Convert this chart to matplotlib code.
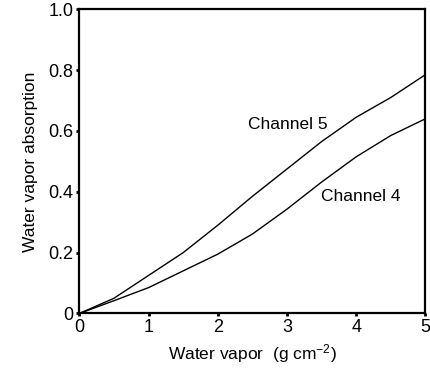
import numpy as np
import matplotlib
matplotlib.use("Agg")
import matplotlib.pyplot as plt

plt.rcParams["font.family"] = ["Liberation Sans", "DejaVu Sans"]
plt.rcParams["mathtext.default"] = "regular"

# precipitable water (g cm^-2) and fractional absorption per channel
water = [0, 0.5, 1, 1.5, 2, 2.5, 3, 3.5, 4, 4.5, 5]
ch5 = [0, 0.05, 0.125, 0.20, 0.29, 0.385, 0.475, 0.565, 0.645, 0.71, 0.785]
ch4 = [0, 0.042, 0.085, 0.14, 0.195, 0.261, 0.343, 0.432, 0.515, 0.585, 0.64]

xticks = [0, 1, 2, 3, 4, 5]
yticks = [0, 0.2, 0.4, 0.6, 0.8, 1.0]
ylabels = ["0", "0.2", "0.4", "0.6", "0.8", "1.0"]

fig = plt.figure(figsize=(4.31, 3.71), dpi=100)
ax = fig.add_axes([0.184, 0.155, 0.803, 0.82])

ax.plot(water, ch5, color="black", lw=1.0, solid_joinstyle="round")
ax.plot(water, ch4, color="black", lw=1.0, solid_joinstyle="round")

ax.text(2.43, 0.62, "Channel 5", fontsize=12.5, va="center", ha="left")
ax.text(3.49, 0.385, "Channel 4", fontsize=12.5, va="center", ha="left")

ax.set_xlim(0, 5)
ax.set_ylim(0, 1.0)
ax.set_xticks(xticks)
ax.set_yticks(yticks)
ax.set_yticklabels(ylabels)
ax.tick_params(direction="out", length=2, width=2, labelsize=13, pad=2)
for s in ax.spines.values():
    s.set_linewidth(1.6)

ax.set_xlabel("Water vapor  (g cm$^{-2}$)", fontsize=12.5, labelpad=4)
ax.set_ylabel("Water vapor absorption", fontsize=12.5, labelpad=8)

fig.savefig("out.png", dpi=100)
